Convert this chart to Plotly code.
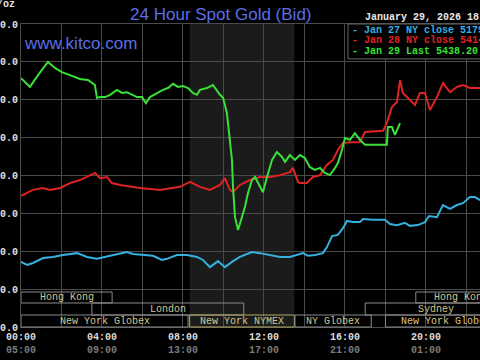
import plotly.graph_objects as go

# ---- data (hours after 00:00 NY time, price USD/oz) ----
jan29_h = [0.00, 0.44, 0.84, 1.19, 1.33, 1.68, 2.02, 2.42, 2.91, 3.31, 3.65, 3.75, 3.90, 4.15, 4.40, 4.74,
           4.99, 5.23, 5.48, 5.73, 5.98, 6.17, 6.37, 6.72, 7.01, 7.26, 7.51, 7.75, 8.00, 8.25, 8.49, 8.69,
           8.84, 9.19, 9.48, 9.83, 9.98, 10.17, 10.32, 10.42, 10.47, 10.57, 10.72, 10.91, 11.06, 11.21,
           11.41, 11.56, 11.70, 11.95, 12.15, 12.40, 12.64, 12.89, 13.04, 13.28, 13.53, 13.78, 14.02,
           14.27, 14.52, 14.77, 15.01, 15.26, 15.51, 15.65, 15.85, 16.00, 16.25, 16.49, 16.74, 16.99,
           17.38, 18.07, 18.12, 18.32, 18.47, 18.72]
jan29_p = [5557, 5534, 5565, 5592, 5600, 5584, 5573, 5565, 5555, 5552, 5539, 5505, 5507, 5507, 5513, 5526,
           5518, 5520, 5513, 5507, 5507, 5491, 5507, 5518, 5526, 5531, 5542, 5534, 5536, 5531, 5518, 5513,
           5526, 5531, 5539, 5513, 5505, 5465, 5386, 5341, 5270, 5190, 5156, 5190, 5217, 5254,
           5288, 5296, 5280, 5256, 5296, 5341, 5362, 5349, 5336, 5354, 5341, 5354, 5346,
           5322, 5315, 5320, 5307, 5301, 5320, 5333, 5367, 5399, 5394, 5412, 5394, 5381,
           5381, 5381, 5428, 5428, 5407, 5438.20]

jan28_h = [0.00, 0.30, 0.59, 1.09, 1.43, 1.93, 2.42, 2.91, 3.26, 3.65, 3.90, 4.25, 4.49, 4.89, 5.88, 6.86,
           7.85, 8.35, 8.84, 9.33, 9.83, 10.07, 10.32, 10.47, 10.81, 11.31, 11.80, 12.30, 12.79, 13.28,
           13.43, 13.68, 13.78, 14.12, 14.42, 14.77, 15.11, 15.41, 15.65, 15.90, 16.25, 16.74, 16.99,
           17.88, 18.07, 18.32, 18.57, 18.72, 18.86, 19.21, 19.46, 19.70, 19.95, 20.20, 20.54, 20.84,
           21.19, 21.53, 21.83, 22.17, 22.67]
jan28_p = [5246, 5254, 5262, 5267, 5262, 5267, 5280, 5288, 5296, 5307, 5293, 5296, 5280, 5275, 5267, 5262,
           5270, 5283, 5270, 5262, 5275, 5293, 5262, 5256, 5275, 5288, 5296, 5296, 5301, 5309,
           5320, 5283, 5280, 5280, 5296, 5301, 5328, 5341, 5367, 5386, 5388, 5388, 5415,
           5418, 5439, 5481, 5494, 5552, 5518, 5499, 5486, 5518, 5518, 5473, 5507, 5544,
           5520, 5534, 5539, 5531, 5531]

jan27_h = [0.00, 0.30, 0.59, 1.09, 1.58, 2.07, 2.77, 3.26, 3.75, 3.90, 4.40, 4.89, 5.23, 5.53, 6.02, 6.52,
           6.96, 7.21, 7.70, 8.20, 8.69, 8.99, 9.33, 9.73, 10.07, 10.42, 10.81, 11.41, 11.80, 12.30,
           12.79, 13.28, 13.63, 13.93, 14.17, 14.52, 14.91, 15.11, 15.36, 15.65, 15.90, 16.10, 16.40,
           16.74, 16.89, 17.38, 17.98, 18.22, 18.57, 18.96, 19.21, 19.60, 19.95, 20.15, 20.54, 20.84,
           21.19, 21.53, 21.83, 22.17, 22.42, 22.67]
jan27_p = [5072, 5064, 5069, 5082, 5085, 5090, 5095, 5085, 5080, 5082, 5088, 5095, 5098, 5093, 5090, 5088,
           5077, 5080, 5090, 5090, 5085, 5077, 5058, 5074, 5058, 5072, 5085, 5098, 5095, 5090,
           5085, 5085, 5090, 5095, 5088, 5090, 5095, 5111, 5140, 5143, 5161, 5180, 5177,
           5177, 5185, 5183, 5183, 5172, 5169, 5175, 5167, 5169, 5177, 5193, 5190, 5222,
           5212, 5222, 5227, 5243, 5243, 5235]

legend_labels = ["- Jan 27 NY close 5179.30", "- Jan 28 NY close 5414.90", "- Jan 29 Last 5438.20"]

y_ticks = [4900, 5000, 5100, 5200, 5300, 5400, 5500, 5600, 5700]
x_ticks = [0, 2, 4, 6, 8, 10, 12, 14, 16, 18, 20, 22]
x_top = ["00:00", "", "04:00", "", "08:00", "", "12:00", "", "16:00", "", "20:00", ""]
x_bottom = ["05:00", "", "09:00", "", "13:00", "", "17:00", "", "21:00", "", "01:00", ""]

session_names = ["Hong Kong", "London", "New York Globex", "New York NYMEX", "NY Globex",
                 "New York Globex", "Sydney", "Hong Kong"]
session_start = [0.0, 3.5, 0.0, 8.33, 13.53, 18.0, 17.0, 19.5]
session_end = [4.5, 11.0, 8.25, 13.5, 17.3, 24.0, 24.0, 24.0]
session_row = [0, 1, 2, 2, 2, 2, 1, 0]

nymex_start, nymex_end = 8.33, 13.5

# ---- style ----
GREEN = "#38e038"
RED = "#e02222"
BLUE = "#35b0e0"
GRID = "#4a4a4a"
MONO = "Liberation Mono, DejaVu Sans Mono, monospace"
SESSION_TEXT = "#d6c68c"

fig = go.Figure()
for h, p, c in [(jan27_h, jan27_p, BLUE), (jan28_h, jan28_p, RED), (jan29_h, jan29_p, GREEN)]:
    fig.add_trace(go.Scatter(x=h, y=p, mode="lines", line=dict(color=c, width=2), showlegend=False,
                             hoverinfo="skip"))

shapes = [dict(type="rect", xref="x", yref="paper", x0=nymex_start, x1=nymex_end, y0=0, y1=1,
               fillcolor="#1b1b1b", line=dict(width=0), layer="below")]

row_bounds = [(0.0792, 0.1155), (0.0396, 0.0792), (0.0, 0.0396)]
annotations = []
for name, s, e, r in zip(session_names, session_start, session_end, session_row):
    y0, y1 = row_bounds[r]
    edge = "#b4aa66" if name == "New York NYMEX" else "#8a8a8a"
    shapes.append(dict(type="rect", xref="x", yref="paper", x0=s, x1=e, y0=y0, y1=y1,
                       line=dict(color=edge, width=1), fillcolor="rgba(0,0,0,0)", layer="above"))
    annotations.append(dict(xref="x", yref="paper", x=(s + e) / 2, y=(y0 + y1) / 2, text=name,
                            showarrow=False, font=dict(family=MONO, size=10, color=SESSION_TEXT),
                            xanchor="center", yanchor="middle"))

# legend box
shapes.append(dict(type="rect", xref="paper", yref="paper", x0=0.7124, x1=1.02, y0=0.885, y1=1.0,
                   fillcolor="#000000", line=dict(color="#666666", width=1), layer="above"))
for lab, c, yy in zip(legend_labels, [BLUE, RED, GREEN], [0.980, 0.944, 0.908]):
    annotations.append(dict(xref="paper", yref="paper", x=0.7168, y=yy, text=lab, showarrow=False,
                            xanchor="left", yanchor="middle",
                            font=dict(family=MONO, size=10, color=c, weight="bold")))

annotations += [
    dict(xref="paper", yref="paper", x=0.745, y=1.023, text="January 29, 2026 18:00 NY Time",
         showarrow=False, xanchor="left", yanchor="middle",
         font=dict(family=MONO, size=10, color="#e8e8e8", weight="bold")),
    dict(xref="paper", yref="paper", x=0.002, y=0.937, text="www.kitco.com", showarrow=False,
         xanchor="left", yanchor="middle",
         font=dict(family="Liberation Sans, Arial", size=17, color="#5a6ee6")),
    dict(xref="paper", yref="paper", x=-0.0087, y=1.063, text="USD/oz", showarrow=False,
         xanchor="right", yanchor="middle",
         font=dict(family=MONO, size=10, color="#e0e0e0", weight="bold")),
]

ticktext = [f"{t}<br><span style='color:#7a7a7a'>{b}</span>" if t else "" for t, b in zip(x_top, x_bottom)]

fig.update_layout(
    template="none",
    width=480, height=360,
    margin=dict(l=21, r=0, t=24, b=33, autoexpand=False),
    paper_bgcolor="#000000", plot_bgcolor="#000000",
    title=dict(text="24 Hour Spot Gold (Bid)", xref="container", x=0.46, xanchor="center",
               yref="container", y=0.961, yanchor="middle",
               font=dict(family="Liberation Sans, Arial", size=17, color="#5a6ee6")),
    xaxis=dict(range=[0, 22.67], tickvals=x_ticks, ticktext=ticktext, showgrid=True, automargin=False,
               gridcolor=GRID, gridwidth=1, zeroline=False, showline=True, linecolor=GRID,
               mirror=True, ticks="", tickfont=dict(family=MONO, size=10, color="#dcdcdc", weight="bold")),
    yaxis=dict(range=[4900, 5700], tickvals=y_ticks, ticktext=[f"{v:.1f}" for v in y_ticks],
               showgrid=True, gridcolor=GRID, gridwidth=1, zeroline=False, showline=True, automargin=False,
               linecolor=GRID, mirror=True, ticks="outside", ticklen=0, tickcolor="rgba(0,0,0,0)",
               ticklabelstandoff=0,
               tickfont=dict(family=MONO, size=10, color="#e0e0e0", weight="bold")),
    shapes=shapes,
    annotations=annotations,
)

fig.write_html("out.html", config={"displayModeBar": False},
               post_script="document.body.style.margin='0';document.body.style.background='#000';")
